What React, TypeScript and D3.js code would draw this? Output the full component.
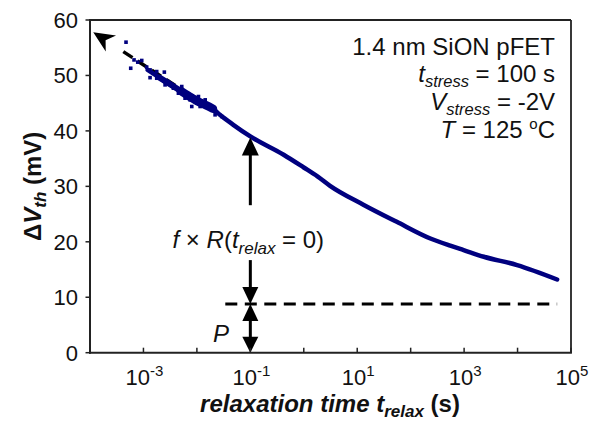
import React from "react";
import * as d3 from "d3";

// ---- data ----
const curveTime = [1.2e-3, 2e-3, 3.3e-3, 5e-3, 7e-3, 1e-2, 1.5e-2, 2e-2, 2.7e-2, 4.8e-2, 0.1, 0.42, 1, 1.8, 3.1, 13, 55, 234, 550, 980, 2340, 9800, 55000];
const curveDVth = [51.0, 49.6, 48.3, 47.2, 46.3, 45.4, 44.6, 44.0, 42.9, 41.1, 39.0, 35.7, 33.4, 31.8, 30.1, 26.7, 23.6, 20.6, 19.3, 18.5, 17.3, 15.8, 13.2];

const noiseTime = [4.72e-4, 5.78e-4, 6.67e-4, 7.82e-4, 9.29e-4, 1.15e-3, 1.33e-3, 1.77e-3, 2.46e-3, 1.33e-3, 1.77e-3, 2.85e-3, 2.54e-3, 3.63e-3, 5.21e-3, 4.51e-3, 6.01e-3, 8.02e-3, 7.46e-3, 1.07e-2, 1.43e-2, 1.15e-2, 1.64e-2, 2.19e-2, 2.92e-2];
const noiseDVth = [56.0, 51.3, 52.8, 52.4, 52.7, 51.5, 51.0, 50.7, 50.6, 49.6, 49.5, 48.9, 48.3, 47.7, 48.0, 46.8, 45.9, 44.4, 45.6, 46.2, 45.6, 44.4, 44.1, 42.9, 42.6];

const yTicks = [0, 10, 20, 30, 40, 50, 60];
const xTickExps = [-4, -3, -2, -1, 0, 1, 2, 3, 4, 5];
const xLabelExps = [-3, -1, 1, 3, 5];

// annotations (data units)
const extrapTip = { t: 1.15e-4, v: 57.8 };
const extrapStart = { t: 4.2e-4, v: 54.3 };
const extrapEnd = { t: 2.5e-2, v: 43.1 };
const permanentLevel = 8.8;
const markTime = 0.1;
const arrowTopV = 38.8;
const gapTopV = 26.6;
const gapBottomV = 16.7;
const dashStartTime = 3.4e-2;
const dashEndTime = 5.5e4;

const W = 600, H = 422;
const L = 90, R = 571, T = 20, B = 352.7;
const FONT = "'Liberation Sans', Arial, Helvetica, sans-serif";
const NAVY = "#00007f";

const x = d3.scaleLog().domain([1e-4, 1e5]).range([L, R]);
const y = d3.scaleLinear().domain([0, 60]).range([B, T]);

function head(px: number, py: number, dir: "up" | "down", w = 16, h = 17) {
  const s = dir === "up" ? 1 : -1;
  return `${px},${py} ${px - w / 2},${py + s * h} ${px + w / 2},${py + s * h}`;
}

export default function App() {
  const pts = curveTime.map((t, i) => [x(t), y(curveDVth[i])] as [number, number]);
  const line = d3.line().curve(d3.curveMonotoneX);
  const segment = (lo: number, hi: number) =>
    curveTime
      .map((t, i) => ({ t, v: curveDVth[i] }))
      .filter((d) => d.t >= lo && d.t <= hi)
      .map((d) => [x(d.t), y(d.v)] as [number, number]);
  const noisyA = segment(1.5e-3, 7e-3);
  const noisyB = segment(5e-3, 2e-2);

  // extrapolation arrow
  const tx = x(extrapTip.t), ty = y(extrapTip.v);
  const sx = x(extrapStart.t), sy = y(extrapStart.v);
  const ex = x(extrapEnd.t), ey = y(extrapEnd.v);
  const dx = sx - tx, dy = sy - ty, len = Math.hypot(dx, dy);
  const ux = dx / len, uy = dy / len;
  const hl = 21, hw = 9.5;
  const bx = tx + ux * hl, by = ty + uy * hl;
  const nx = tx + ux * hl * 0.7, ny = ty + uy * hl * 0.7;
  const headPts = `${tx},${ty} ${bx - uy * hw},${by + ux * hw} ${nx},${ny} ${bx + uy * hw},${by - ux * hw}`;

  const mx = x(markTime);
  const yp = y(permanentLevel);

  return (
    <svg width={W} height={H} style={{ position: "absolute", left: 0, top: 0, background: "#fff" }} fontFamily={FONT}>
      <rect x={0} y={0} width={W} height={H} fill="#fff" />

      {/* extrapolation dashed arrow */}
      <line x1={sx} y1={sy} x2={ex} y2={ey} stroke="#000" strokeWidth={3.5} strokeDasharray="11,6" />
      <polygon points={headPts} fill="#000" />

      {/* data */}
      <path d={line(noisyA) || ""} fill="none" stroke={NAVY} strokeWidth={6} strokeLinecap="round" />
      <path d={line(noisyB) || ""} fill="none" stroke={NAVY} strokeWidth={8.5} strokeLinecap="round" />
      <path d={line(pts) || ""} fill="none" stroke={NAVY} strokeWidth={4.5} strokeLinecap="round" />
      {noiseTime.map((t, i) => (
        <rect key={i} x={x(t) - 1.8} y={y(noiseDVth[i]) - 1.8} width={3.6} height={3.6} fill={NAVY} />
      ))}

      {/* permanent level dashed line */}
      <line x1={x(dashStartTime)} x2={x(dashEndTime)} y1={yp} y2={yp} stroke="#000" strokeWidth={3} strokeDasharray="12,7.5" />

      {/* vertical arrows at t = 0.1 */}
      <line x1={mx} x2={mx} y1={y(arrowTopV) + 10} y2={y(gapTopV)} stroke="#000" strokeWidth={3} />
      <polygon points={head(mx, y(arrowTopV), "up", 17, 18)} fill="#000" />
      <line x1={mx} x2={mx} y1={y(gapBottomV)} y2={yp - 10} stroke="#000" strokeWidth={3} />
      <polygon points={head(mx, yp, "down")} fill="#000" />
      <line x1={mx} x2={mx} y1={yp + 10} y2={B - 10} stroke="#000" strokeWidth={3} />
      <polygon points={head(mx, yp, "up")} fill="#000" />
      <polygon points={head(mx, B, "down", 16, 16)} fill="#000" />

      {/* axes box */}
      <line x1={L} x2={R} y1={T} y2={T} stroke="#222" strokeWidth={1.8} />
      <line x1={R} x2={R} y1={T} y2={B} stroke="#222" strokeWidth={1.8} />
      <line x1={L} x2={L} y1={T - 0.9} y2={B + 1} stroke="#222" strokeWidth={2} />
      <line x1={L - 1} x2={R + 0.9} y1={B} y2={B} stroke="#222" strokeWidth={2} />

      {yTicks.map((v) => (
        <g key={v}>
          <line x1={L - 4.5} x2={L} y1={y(v)} y2={y(v)} stroke="#222" strokeWidth={1.5} />
          <text x={78} y={y(v)} dy="0.36em" textAnchor="end" fontSize={22} fill="#111">{v}</text>
        </g>
      ))}
      {xTickExps.map((e) => (
        <line key={e} x1={x(Math.pow(10, e))} x2={x(Math.pow(10, e))} y1={B} y2={B - 5} stroke="#222" strokeWidth={1.5} />
      ))}
      {xLabelExps.map((e) => (
        <text key={e} x={x(Math.pow(10, e)) + 1} y={385} textAnchor="middle" fontSize={22} fill="#111">
          10<tspan dy={-9} fontSize={15}>{e}</tspan>
        </text>
      ))}

      {/* axis titles */}
      <text x={330} y={412} textAnchor="middle" fontSize={24} fontWeight="bold" fill="#111">
        <tspan fontStyle="italic">relaxation time t</tspan>
        <tspan fontStyle="italic" fontSize={17} dy={5}>relax</tspan>
        <tspan dy={-5}> (s)</tspan>
      </text>
      <text transform={`translate(41,${(T + B) / 2}) rotate(-90)`} textAnchor="middle" fontSize={24} fontWeight="bold" fill="#111">
        Δ<tspan fontStyle="italic">V</tspan>
        <tspan fontStyle="italic" fontSize={17} dy={5}>th</tspan>
        <tspan dy={-5}> (mV)</tspan>
      </text>

      {/* info box */}
      <g fontSize={24} fill="#111" textAnchor="end">
        <text x={555} y={55}>1.4 nm SiON pFET</text>
        <text x={555} y={82}>
          <tspan fontStyle="italic">t</tspan>
          <tspan fontStyle="italic" fontSize={16.5} dy={5}>stress</tspan>
          <tspan dy={-5}> = 100 s</tspan>
        </text>
        <text x={555} y={110}>
          <tspan fontStyle="italic">V</tspan>
          <tspan fontStyle="italic" fontSize={16.5} dy={5}>stress</tspan>
          <tspan dy={-5}> = -2V</tspan>
        </text>
        <text x={555} y={138}>
          <tspan fontStyle="italic">T</tspan>
          <tspan> = 125 </tspan>
          <tspan fontSize={15} dy={-9}>o</tspan>
          <tspan dy={9}>C</tspan>
        </text>
      </g>

      {/* arrow labels */}
      <text x={mx - 2} y={248} textAnchor="middle" fontSize={24} fill="#111">
        <tspan fontStyle="italic">f</tspan>
        <tspan> × </tspan>
        <tspan fontStyle="italic">R</tspan>
        <tspan>(</tspan>
        <tspan fontStyle="italic">t</tspan>
        <tspan fontStyle="italic" fontSize={17} dy={6}>relax</tspan>
        <tspan dy={-6}> = 0)</tspan>
      </text>
      <text x={229} y={342} textAnchor="end" fontSize={24} fontStyle="italic" fill="#111">P</text>
    </svg>
  );
}
